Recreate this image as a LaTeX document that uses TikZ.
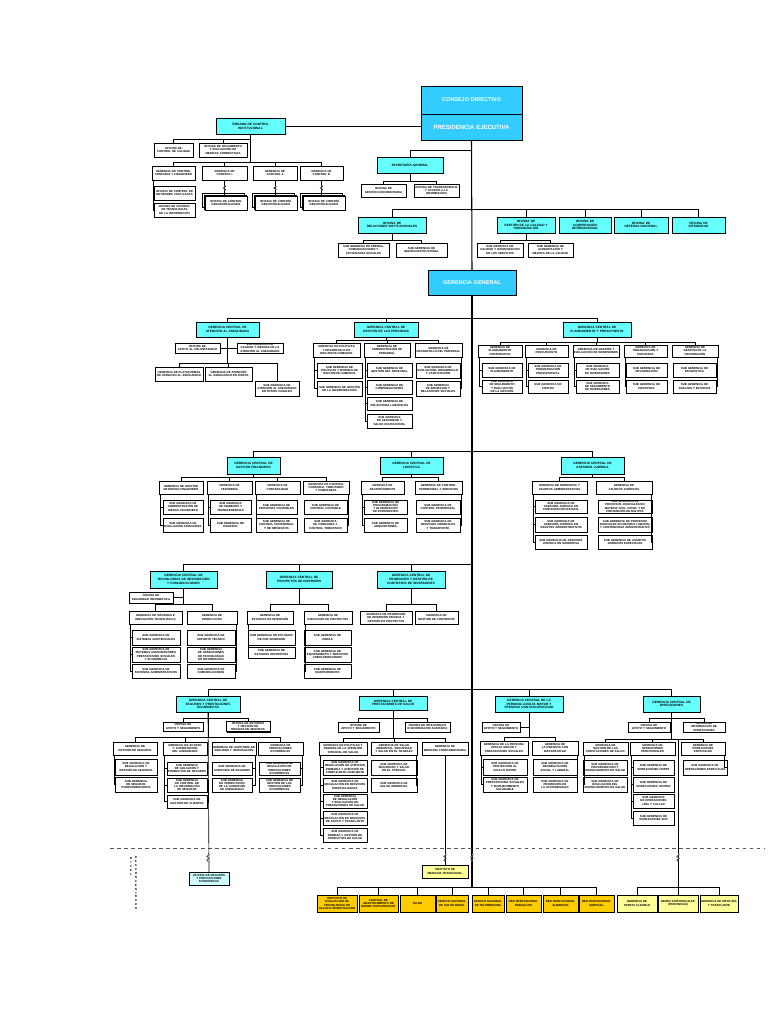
\documentclass[tikz,border=0pt]{standalone}
\usepackage{fontspec}
\setsansfont{Liberation Sans}
\usetikzlibrary{shadows}
\definecolor{headcyan}{HTML}{33CCFF}
\definecolor{gccyan}{HTML}{66FFFF}
\definecolor{palecyan}{HTML}{CCFFFF}
\definecolor{essgold}{HTML}{FFCC00}
\definecolor{paleyellow}{HTML}{FFFF99}
\definecolor{dashgray}{HTML}{555555}

% box from its corners (x1,y1) (x2,y2), in pixels of the chart
\newcommand\ob[7][obox]{%
  \pgfmathsetmacro\obw{(#5-#3)*0.3}%
  \pgfmathsetmacro\obt{(#5-#3)*0.3-0.4}%
  \pgfmathsetmacro\obh{(#6-#4)*0.3}%
  \node[#1, minimum width=\obw mm, minimum height=\obh mm, text width=\obt mm]
    (#2) at ({(#3+#5)/2},{(#4+#6)/2}) {#7};}

\begin{document}
\hyphenpenalty=10000
\exhyphenpenalty=10000
\begin{tikzpicture}[
    x=0.3mm, y=-0.3mm,
    conn/.style={draw, line width=0.55pt},
    spine/.style={draw, line width=0.9pt},
    obox/.style={draw, fill=white, line width=0.4pt, inner sep=0.2mm, align=center,
      font=\sffamily\bfseries\fontsize{2.45}{2.8}\selectfont,
      drop shadow={shadow xshift=0.35mm, shadow yshift=-0.35mm, fill=black, opacity=1}},
    gcbox/.style={obox, fill=gccyan, font=\sffamily\bfseries\fontsize{2.7}{3.1}\selectfont},
    headbox/.style={obox, fill=headcyan, text=white, font=\sffamily\bfseries\fontsize{4.7}{5.5}\selectfont},
    stackbox/.style={obox, double copy shadow={shadow xshift=-0.35mm, shadow yshift=0.35mm}},
    ybox/.style={obox, fill=essgold},
    lybox/.style={obox, fill=paleyellow},
    pcbox/.style={obox, fill=palecyan},
    brk/.style={draw, line width=0.4pt},
    vtext/.style={font=\sffamily\bfseries\fontsize{2.6}{3.4}\selectfont, align=center, inner sep=0},
]
\useasboundingbox (0,0) rectangle (768,1024);

% Alta direccion
\ob[headbox]{cd}{421}{86}{522}{114}{CONSEJO DIRECTIVO}
\ob[headbox]{pe}{421}{114}{522}{140}{\fontsize{5.1}{6}\selectfont PRESIDENCIA EJECUTIVA}
\ob[headbox]{gg}{428}{270}{516}{295}{GERENCIA GENERAL}
\draw[spine] (pe.south) -- (gg.north);
\draw[spine] (gg.south) -- ([yshift=2.1mm]gg.south |- 0,895);

% Organo de control institucional
\ob[gcbox]{oci}{216}{118}{285}{134}{ÓRGANO DE CONTROL\\INSTITUCIONAL}
\ob{occ}{154}{143}{193}{157}{OFICINA DE\\CONTROL DE CALIDAD}
\ob{osm}{199}{143}{247}{157}{OFICINA DE SEGUIMIENTO Y EVALUACIÓN DE MEDIDAS CORRECTIVAS}
\ob{gcc}{152}{166}{195}{180}{GERENCIA DE CONTROL CONTABLE Y FINANCIERO}
\ob{gc1}{202}{166}{247}{180}{GERENCIA DE\\CONTROL I}
\ob{gc2}{253}{166}{297}{180}{GERENCIA DE\\CONTROL II}
\ob{gc3}{300}{166}{343}{180}{GERENCIA DE\\CONTROL III}
\ob{oca}{154}{186}{195}{200}{OFICINA DE CONTROL DE ENTIDADES VINCULADAS}
\ob{ocb}{154}{203}{195}{217}{OFICINA DE CONTROL DE TECNOLOGÍAS DE LA INFORMACIÓN}
\ob[stackbox]{ocd1}{205}{196}{247}{210}{OFICINA DE CONTROL DESCENTRALIZADO}
\ob[stackbox]{ocd2}{255}{196}{297}{210}{OFICINA DE CONTROL DESCENTRALIZADO}
\ob[stackbox]{ocd3}{303}{196}{345}{210}{OFICINA DE CONTROL DESCENTRALIZADO}
\draw[conn] (oci.east) -- (oci.east -| pe.west);
\foreach \c in {occ,osm,gcc,gc1,gc2,gc3} \draw[conn] (\c.north) -- ++(0,-3) -| (oci.south);
\foreach \c in {oca,ocb} \draw[conn] ([xshift=0.4mm]gcc.south west) |- (\c.west);
\foreach \p/\c in {gc1/ocd1,gc2/ocd2,gc3/ocd3} {
    \draw[conn] (\p.south) -- (\p.south |- \c.north);
}
\foreach \x in {224.5,275,321.5}
    \draw[brk, fill=white] (\x,185) -- (\x+1.3,186.5) -- (\x-1.3,188) -- (\x+1.3,189.5) -- (\x,191);

% Secretaria general
\ob[gcbox]{sg}{377}{157}{443}{173}{SECRETARÍA GENERAL}
\ob{ogd}{361}{184}{406}{197}{OFICINA DE\\GESTIÓN DOCUMENTARIA}
\ob{oti}{414}{184}{459}{197}{OFICINA DE TRANSPARENCIA Y ACCESO A LA INFORMACIÓN}
\draw[conn] (sg.north) -- ++(0,-6) -| (pe.south);
\foreach \c in {ogd,oti} \draw[conn] (\c.north) -- ++(0,-2) -| (sg.south);

% Oficinas
\ob[gcbox]{ori}{358}{217}{426}{233}{OFICINA DE\\RELACIONES INSTITUCIONALES}
\ob[gcbox]{ogch}{497}{217}{555}{233}{OFICINA DE\\GESTIÓN DE LA CALIDAD Y\\HUMANIZACIÓN}
\ob[gcbox]{occi}{559}{217}{611}{233}{OFICINA DE\\COOPERACIÓN\\INTERNACIONAL}
\ob[gcbox]{odn}{614}{217}{668}{233}{OFICINA DE\\DEFENSA NACIONAL}
\ob[gcbox]{oint}{672}{217}{725}{233}{OFICINA DE\\INTEGRIDAD}
\ob{spc}{338}{243}{389}{257}{SUB GERENCIA DE PRENSA, COMUNICACIONES Y ACTIVIDADES SOCIALES}
\ob{sgii}{396}{243}{447}{257}{SUB GERENCIA DE\\IMAGEN INSTITUCIONAL}
\ob{sgch}{477}{243}{523}{257}{SUB GERENCIA DE CALIDAD Y HUMANIZACIÓN DE LOS SERVICIOS}
\ob{sgam}{528}{243}{573}{257}{SUB GERENCIA DE ACREDITACIÓN Y MEJORA DE LA CALIDAD}
\foreach \c in {ori,ogch,occi,odn,oint} \draw[conn] (\c.north) -- ++(0,-7) -| (pe.south);
\foreach \c in {spc,sgii} \draw[conn] (\c.north) -- ++(0,-2) -| (ori.south);
\foreach \c in {sgch,sgam} \draw[conn] (\c.north) -- ++(0,-2) -| (ogch.south);

% Gerencias centrales: primera fila
\ob[gcbox]{gcaa}{196}{322}{259}{337}{GERENCIA CENTRAL DE\\ATENCIÓN AL ASEGURADO}
\ob[gcbox]{gcgp}{354}{322}{418}{337}{GERENCIA CENTRAL DE\\GESTIÓN DE LAS PERSONAS}
\ob[gcbox]{gcpp}{563}{322}{631}{337}{GERENCIA CENTRAL DE\\PLANEAMIENTO Y PRESUPUESTO}
\foreach \c in {gcaa,gcgp,gcpp} \draw[conn] (\c.north) -- ++(0,-3) -| (gg.south);

% Atencion al asegurado
\ob{oav}{175}{343}{220}{353}{OFICINA DE\\APOYO AL VOLUNTARIADO}
\ob{sgca}{237}{343}{283}{353}{SUB GERENCIA DE CALIDAD Y MEJORA DE LA ATENCIÓN AL ASEGURADO}
\ob{gpa}{155}{367}{203}{381}{GERENCIA DE PLATAFORMAS DE ATENCIÓN AL ASEGURADO}
\ob{gai}{205}{367}{252}{381}{GERENCIA DE ATENCIÓN AL ASEGURADO EN IPRESS}
\ob{sgoc}{255}{381}{299}{396}{SUB GERENCIA DE ATENCIÓN AL ASEGURADO EN OTROS CANALES}
\draw[conn] (oav.east) -- (sgca.west);
\foreach \c in {gpa,gai} \draw[conn] (\c.north) -- ++(0,-3) -| (gcaa.south);
\draw[conn] (sgoc.north) -- ++(0,-17) -| (gcaa.south);

% Gestion de las personas
\ob{gpr}{313}{343}{360}{357}{GERENCIA DE POLÍTICAS Y DESARROLLO DE RECURSOS HUMANOS}
\ob{gap}{364}{343}{410}{357}{GERENCIA DE\\ADMINISTRACIÓN DE\\PERSONAL}
\ob{gdp}{415}{343}{462}{357}{GERENCIA DE\\DESARROLLO DEL PERSONAL}
\ob{gpra}{317}{363}{362}{378}{SUB GERENCIA DE POLÍTICAS Y NORMAS DE RECURSOS HUMANOS}
\ob{gprb}{317}{381}{362}{396}{SUB GERENCIA DE GESTIÓN DE LA INCORPORACIÓN}
\ob{gapa}{367}{363}{412}{377}{SUB GERENCIA DE\\GESTIÓN DEL PERSONAL}
\ob{gapb}{367}{380}{412}{394}{SUB GERENCIA DE\\COMPENSACIONES}
\ob{gapc}{367}{397}{412}{410}{SUB GERENCIA DE\\RELACIONES LABORALES}
\ob{gapd}{367}{414}{412}{428}{SUB GERENCIA DE SEGURIDAD Y SALUD OCUPACIONAL}
\ob{gdpa}{416}{363}{460}{378}{SUB GERENCIA DE EVALUACIÓN, DESARROLLO Y CAPACITACIÓN}
\ob{gdpb}{416}{381}{460}{396}{SUB GERENCIA DE BIENESTAR Y RELACIONES SOCIALES}
\foreach \c in {gpr,gap,gdp} \draw[conn] (\c.north) -- ++(0,-2) -| (gcgp.south);
\foreach \c in {gpra,gprb} \draw[conn] ([xshift=0.4mm]gpr.south west) |- (\c.west);
\foreach \c in {gapa,gapb,gapc,gapd} \draw[conn] ([xshift=0.4mm]gap.south west) |- (\c.west);
\foreach \c in {gdpa,gdpb} \draw[conn] ([xshift=-0.4mm]gdp.south east) |- (\c.east);

% Planeamiento y presupuesto
\ob{p1}{478}{345}{522}{357}{GERENCIA DE\\PLANEAMIENTO\\CORPORATIVO}
\ob{p2}{525}{345}{568}{357}{GERENCIA DE\\PRESUPUESTO}
\ob{p3}{573}{345}{619}{357}{GERENCIA DE GESTIÓN Y EVALUACIÓN DE INVERSIONES}
\ob{p4}{624}{345}{667}{357}{GERENCIA DE\\ORGANIZACIÓN Y\\PROCESOS}
\ob{p5}{672}{345}{718}{357}{GERENCIA DE\\GESTIÓN DE LA\\INFORMACIÓN}
\foreach \c in {p1,p2,p3,p4,p5} \draw[conn] (\c.north) -- ++(0,-2) -| (gcpp.south);
\foreach \n/\xa/\xb/\ta/\tb in {
    p1/482/522/{SUB GERENCIA DE\\PLANEAMIENTO}/{SUB GERENCIA DE SEGUIMIENTO Y EVALUACIÓN DE LA GESTIÓN},
    p2/528/568/{SUB GERENCIA DE PROGRAMACIÓN PRESUPUESTAL}/{SUB GERENCIA DE\\COSTOS},
    p3/576/619/{SUB GERENCIA DE EVALUACIÓN DE INVERSIONES}/{SUB GERENCIA DE SEGUIMIENTO DE INVERSIONES},
    p4/626/667/{SUB GERENCIA DE\\ORGANIZACIÓN}/{SUB GERENCIA DE\\PROCESOS}} {
    \ob{\n a}{\xa}{363}{\xb}{377}{\ta}
    \ob{\n b}{\xa}{380}{\xb}{393}{\tb}
    \draw[conn] ([xshift=0.4mm]\n.south west) |- (\n a.west);
    \draw[conn] ([xshift=0.4mm]\n.south west) |- (\n b.west);
}
\ob{p5a}{673}{363}{716}{377}{SUB GERENCIA DE\\ESTADÍSTICA}
\ob{p5b}{673}{380}{716}{393}{SUB GERENCIA DE\\ANÁLISIS Y ESTUDIOS}
\foreach \c in {p5a,p5b} \draw[conn] ([xshift=-0.4mm]p5.south east) |- (\c.east);

% Gerencias centrales: segunda fila
\ob[gcbox]{gcgf}{227}{457}{280}{474}{GERENCIA CENTRAL DE\\GESTIÓN FINANCIERA}
\ob[gcbox]{gcl}{380}{457}{443}{474}{GERENCIA CENTRAL DE\\LOGÍSTICA}
\ob[gcbox]{gcaj}{561}{457}{624}{474}{GERENCIA CENTRAL DE\\ASESORÍA JURÍDICA}
\foreach \c in {gcgf,gcl,gcaj} \draw[conn] (\c.north) -- ++(0,-5) -| (gg.south);

% Gestion financiera
\ob{f1}{159}{481}{203}{494}{GERENCIA DE GESTIÓN DE RIESGO FINANCIERO}
\ob{f2}{207}{481}{252}{494}{GERENCIA DE\\TESORERÍA}
\ob{f3}{255}{481}{300}{494}{GERENCIA DE\\CONTABILIDAD}
\ob{f4}{303}{481}{349}{494}{GERENCIA DE CONTROL CONTABLE, TRIBUTARIO Y COBRANZAS}
\foreach \c in {f1,f2,f3,f4} \draw[conn] (\c.north) -- ++(0,-3) -| (gcgf.south);
\foreach \n/\xa/\xb/\ta/\tb in {
    f1/163/203/{SUB GERENCIA DE ADMINISTRACIÓN DE RIESGO FINANCIERO}/{SUB GERENCIA DE EVALUACIÓN FINANCIERA},
    f2/210/251/{SUB GERENCIA DE INGRESOS Y TRANSFERENCIAS}/{SUB GERENCIA DE\\EGRESOS},
    f3/256/297/{SUB GERENCIA DE PROCESOS CONTABLES}/{SUB GERENCIA DE CONTROL PATRIMONIAL Y DE IMPUESTOS}} {
    \ob{\n a}{\xa}{500}{\xb}{514}{\ta}
    \ob{\n b}{\xa}{518}{\xb}{532}{\tb}
    \draw[conn] ([xshift=0.4mm]\n.south west) |- (\n a.west);
    \draw[conn] ([xshift=0.4mm]\n.south west) |- (\n b.west);
}
\ob{f4a}{304}{500}{347}{514}{SUB GERENCIA DE\\CONTROL CONTABLE}
\ob{f4b}{304}{518}{347}{532}{SUB GERENCIA DE COBRANZA Y CONTROL TRIBUTARIO}
\foreach \c in {f4a,f4b} \draw[conn] ([xshift=-0.4mm]f4.south east) |- (\c.east);

% Logistica
\ob{l1}{361}{481}{404}{494}{GERENCIA DE\\ABASTECIMIENTO}
\ob{l2}{415}{481}{462}{494}{GERENCIA DE CONTROL PATRIMONIAL Y SERVICIOS}
\ob{l1a}{364}{500}{407}{514}{SUB GERENCIA DE PROGRAMACIÓN Y ELABORACIÓN DE EXPEDIENTES}
\ob{l1b}{364}{518}{407}{532}{SUB GERENCIA DE\\ADQUISICIONES}
\ob{l2a}{416}{500}{460}{514}{SUB GERENCIA DE\\CONTROL PATRIMONIAL}
\ob{l2b}{416}{518}{460}{532}{SUB GERENCIA DE SERVICIOS GENERALES Y TRANSPORTE}
\foreach \c in {l1,l2} \draw[conn] (\c.north) -- ++(0,-3) -| (gcl.south);
\foreach \c in {l1a,l1b} \draw[conn] ([xshift=0.4mm]l1.south west) |- (\c.west);
\foreach \c in {l2a,l2b} \draw[conn] ([xshift=-0.4mm]l2.south east) |- (\c.east);

% Asesoria juridica
\ob{j1}{532}{481}{587}{494}{GERENCIA DE NORMATIVA Y ASUNTOS ADMINISTRATIVOS}
\ob{j2}{596}{481}{652}{494}{GERENCIA DE\\ASUNTOS JURÍDICOS}
\ob{j1a}{535}{500}{587}{513}{SUB GERENCIA DE ASESORÍA JURÍDICA EN CONTRATACIÓN ESTATAL}
\ob{j1b}{535}{517}{587}{532}{SUB GERENCIA DE ASESORÍA JURÍDICA EN ASUNTOS ADMINISTRATIVOS}
\ob{j1c}{535}{535}{587}{549}{SUB GERENCIA DE ASESORÍA JURÍDICA EN NORMATIVA}
\ob{j2a}{598}{500}{652}{513}{SUB GERENCIA DE PROCESOS JUDICIALES EN MATERIA CIVIL, PENAL Y DE PREVENCIÓN DE DELITOS}
\ob{j2b}{598}{517}{652}{532}{SUB GERENCIA DE PROCESOS JUDICIALES EN MATERIA LABORAL Y CONTENCIOSO ADMINISTRATIVO}
\ob{j2c}{598}{535}{652}{549}{SUB GERENCIA DE ASUNTOS JURÍDICOS ESPECIALES}
\foreach \c in {j1,j2} \draw[conn] (\c.north) -- ++(0,-3) -| (gcaj.south);
\foreach \c in {j1a,j1b,j1c} \draw[conn] ([xshift=0.4mm]j1.south west) |- (\c.west);
\foreach \c in {j2a,j2b,j2c} \draw[conn] ([xshift=-0.4mm]j2.south east) |- (\c.east);

% Gerencias centrales: tercera fila
\ob[gcbox]{gctic}{150}{571}{217}{588}{GERENCIA CENTRAL DE\\TECNOLOGÍAS DE INFORMACIÓN\\Y COMUNICACIONES}
\ob[gcbox]{gcpi}{266}{571}{332}{588}{GERENCIA CENTRAL DE\\PROYECTOS DE INVERSIÓN}
\ob[gcbox]{gcpg}{377}{571}{445}{588}{GERENCIA CENTRAL DE\\PROMOCIÓN Y GESTIÓN DE\\CONTRATOS DE INVERSIONES}
\foreach \c in {gctic,gcpi,gcpg} \draw[conn] (\c.north) -- ++(0,-6) -| (gg.south);

% Tecnologias de informacion
\ob{osi}{129}{592}{173}{603}{OFICINA DE\\SEGURIDAD INFORMÁTICA}
\ob{t1}{129}{611}{182}{624}{GERENCIA DE SISTEMAS E INNOVACIÓN TECNOLÓGICA}
\ob{t2}{187}{611}{237}{624}{GERENCIA DE\\PRODUCCIÓN}
\ob{t1a}{132}{630}{180}{645}{SUB GERENCIA DE\\SISTEMAS ASISTENCIALES}
\ob{t1b}{132}{647}{180}{662}{SUB GERENCIA DE SISTEMAS ASEGURADORES, PRESTACIONES SOCIALES Y ECONÓMICAS}
\ob{t1c}{132}{664}{180}{678}{SUB GERENCIA DE SISTEMAS ADMINISTRATIVOS}
\ob{t2a}{187}{630}{235}{645}{SUB GERENCIA DE\\SOPORTE TÉCNICO}
\ob{t2b}{187}{647}{235}{662}{SUB GERENCIA DE OPERACIONES DE TECNOLOGÍAS DE INFORMACIÓN}
\ob{t2c}{187}{664}{235}{678}{SUB GERENCIA DE\\COMUNICACIONES}
\draw[conn] (osi.east) -- (osi.east -| gctic.south);
\foreach \c in {t1,t2} \draw[conn] (\c.north) -- ++(0,-6) -| (gctic.south);
\foreach \c in {t1a,t1b,t1c} \draw[conn] ([xshift=0.4mm]t1.south west) |- (\c.west);
\foreach \c in {t2a,t2b,t2c} \draw[conn] ([xshift=-0.4mm]t2.south east) |- (\c.east);

% Proyectos de inversion
\ob{i1}{247}{611}{293}{624}{GERENCIA DE\\ESTUDIOS DE INVERSIÓN}
\ob{i2}{304}{611}{352}{624}{GERENCIA DE\\EJECUCIÓN DE PROYECTOS}
\ob{i1a}{248}{630}{295}{645}{SUB GERENCIA DE ESTUDIOS DE PRE INVERSIÓN}
\ob{i1b}{248}{647}{295}{658}{SUB GERENCIA DE ESTUDIOS DEFINITIVOS}
\ob{i2a}{304}{630}{351}{645}{SUB GERENCIA DE\\OBRAS}
\ob{i2b}{304}{647}{351}{662}{SUB GERENCIA DE EQUIPAMIENTO Y SERVICIOS COMPLEMENTARIOS}
\ob{i2c}{304}{664}{351}{678}{SUB GERENCIA DE\\MANTENIMIENTO}
\foreach \c in {i1,i2} \draw[conn] (\c.north) -- ++(0,-6) -| (gcpi.south);
\foreach \c in {i1a,i1b} \draw[conn] ([xshift=0.4mm]i1.south west) |- (\c.west);
\foreach \c in {i2a,i2b,i2c} \draw[conn] ([xshift=0.4mm]i2.south west) |- (\c.west);

% Promocion y gestion de contratos
\ob{g1}{360}{611}{412}{624}{GERENCIA DE PROMOCIÓN DE INVERSIÓN PRIVADA Y GESTIÓN DE PROYECTOS}
\ob{g2}{415}{611}{458}{624}{GERENCIA DE\\GESTIÓN DE CONTRATOS}
\foreach \c in {g1,g2} \draw[conn] (\c.north) -- ++(0,-6) -| (gcpg.south);

% Gerencias centrales: cuarta fila
\ob[gcbox]{gcspe}{176}{696}{240}{712}{GERENCIA CENTRAL DE\\SEGUROS Y PRESTACIONES\\ECONÓMICAS}
\ob[gcbox]{gcps}{359}{696}{427}{710}{GERENCIA CENTRAL DE\\PRESTACIONES DE SALUD}
\ob[gcbox]{gcpam}{495}{696}{563}{712}{GERENCIA CENTRAL DE LA\\PERSONA ADULTA MAYOR Y\\PERSONA CON DISCAPACIDAD}
\ob[gcbox]{gco}{643}{696}{700}{712}{GERENCIA CENTRAL DE\\OPERACIONES}
\foreach \c in {gcspe,gcps,gcpam,gco} \draw[conn] (\c.north) -- ++(0,-6) -| (gg.south);

% Seguros y prestaciones economicas
\ob{sa1}{163}{722}{203}{731}{OFICINA DE\\APOYO Y SEGUIMIENTO}
\ob{sa2}{226}{722}{270}{731}{OFICINA DE ESTUDIOS Y GESTIÓN DE RIESGOS DE SEGUROS}
\ob{s1}{113}{742}{157}{755}{GERENCIA DE\\GESTIÓN DE SEGUROS}
\ob{s2}{163}{742}{207}{755}{GERENCIA DE ACCESO Y ACREDITACIÓN DEL ASEGURADO}
\ob{s3}{212}{742}{256}{755}{GERENCIA DE AUDITORÍA DE SEGUROS Y VERIFICACIÓN}
\ob{s4}{258}{742}{303}{755}{GERENCIA DE\\PRESTACIONES\\ECONÓMICAS}
\ob{s1a}{115}{759}{157}{775}{SUB GERENCIA DE REGULACIÓN Y GESTIÓN DE SEGUROS}
\ob{s1b}{115}{777}{157}{792}{SUB GERENCIA DE SEGUROS COMPLEMENTARIOS}
\ob{s2a}{167}{762}{207}{775}{SUB GERENCIA DE AFILIACIÓN Y PROMOCIÓN DE SEGUROS}
\ob{s2b}{167}{778}{207}{792}{SUB GERENCIA DE CONTROL DE LA INFORMACIÓN DE SEGUROS}
\ob{s2c}{167}{795}{207}{808}{SUB GERENCIA DE\\GESTIÓN DE CLIENTES}
\ob{s3a}{212}{762}{252}{775}{SUB GERENCIA DE AUDITORÍA DE SEGUROS}
\ob{s3b}{212}{778}{252}{792}{SUB GERENCIA DE VERIFICACIÓN DE LA CONDICIÓN DE ASEGURADO}
\ob{s4a}{259}{762}{300}{775}{SUB GERENCIA DE REGULACIÓN DE PRESTACIONES ECONÓMICAS}
\ob{s4b}{259}{778}{300}{792}{SUB GERENCIA DE GESTIÓN DE LAS PRESTACIONES ECONÓMICAS}
\foreach \c in {sa1,sa2} \draw[conn] (\c.north) -- ++(0,-3) -| (gcspe.south);
\foreach \c in {s1,s2,s3,s4} \draw[conn] (\c.north) -- ++(0,-4) -| (gcspe.south);
\foreach \c in {s1a,s1b} \draw[conn] ([xshift=0.4mm]s1.south west) |- (\c.west);
\foreach \c in {s2a,s2b,s2c} \draw[conn] ([xshift=0.4mm]s2.south west) |- (\c.west);
\foreach \c in {s3a,s3b} \draw[conn] ([xshift=-0.4mm]s3.south east) |- (\c.east);
\foreach \c in {s4a,s4b} \draw[conn] ([xshift=-0.4mm]s4.south east) |- (\c.east);

% Prestaciones de salud
\ob{ha1}{338}{722}{379}{732}{OFICINA DE\\APOYO Y SEGUIMIENTO}
\ob{ha2}{405}{722}{450}{732}{OFICINA DE INTELIGENCIA E INFORMACIÓN SANITARIA}
\ob{h1}{319}{742}{367}{755}{GERENCIA DE POLÍTICAS Y NORMAS DE LA ATENCIÓN INTEGRAL DE SALUD}
\ob{h2}{371}{742}{417}{755}{GERENCIA DE SALUD AMBIENTAL, SEGURIDAD Y SALUD EN EL TRABAJO}
\ob{h3}{422}{742}{468}{755}{GERENCIA DE\\MEDICINA COMPLEMENTARIA}
\ob{h1a}{323}{760}{367}{775}{SUB GERENCIA DE REGULACIÓN EN ATENCIÓN PRIMARIA Y ATENCIÓN DE COMPLEJIDAD CRECIENTE}
\ob{h1b}{323}{778}{367}{792}{SUB GERENCIA DE REGULACIÓN EN SERVICIOS ESPECIALIZADOS}
\ob{h1c}{323}{794}{367}{808}{SUB GERENCIA DE REGULACIÓN Y EVALUACIÓN DE PRESTACIONES DE SALUD}
\ob{h1d}{323}{811}{367}{825}{SUB GERENCIA DE REGULACIÓN EN SERVICIOS DE APOYO Y TRASPLANTE}
\ob{h1e}{323}{828}{367}{842}{SUB GERENCIA DE NORMAS Y GESTIÓN DE PRODUCTOS DE SALUD}
\ob{h2a}{371}{760}{417}{775}{SUB GERENCIA DE SEGURIDAD Y SALUD EN EL TRABAJO}
\ob{h2b}{371}{778}{417}{792}{SUB GERENCIA DE\\SALUD AMBIENTAL}
\foreach \c in {ha1,ha2} \draw[conn] (\c.north) -- ++(0,-3) -| (gcps.south);
\foreach \c in {h1,h2,h3} \draw[conn] (\c.north) -- ++(0,-3) -| (gcps.south);
\foreach \c in {h1a,h1b,h1c,h1d,h1e} \draw[conn] ([xshift=0.4mm]h1.south west) |- (\c.west);
\foreach \c in {h2a,h2b} \draw[conn] ([xshift=-0.4mm]h2.south east) |- (\c.east);

% Persona adulta mayor y persona con discapacidad
\ob{pas}{482}{722}{520}{732}{OFICINA DE\\APOYO Y SEGUIMIENTO}
\ob{a1}{480}{741}{528}{755}{GERENCIA DE LA PERSONA ADULTA MAYOR Y PRESTACIONES SOCIALES}
\ob{a2}{532}{741}{578}{755}{GERENCIA DE\\LA PERSONA CON\\DISCAPACIDAD}
\ob{a1a}{483}{759}{527}{775}{SUB GERENCIA DE PROTECCIÓN AL ADULTO MAYOR}
\ob{a1b}{483}{777}{527}{792}{SUB GERENCIA DE PRESTACIONES SOCIALES Y ENVEJECIMIENTO SALUDABLE}
\ob{a2a}{533}{759}{577}{775}{SUB GERENCIA DE REHABILITACIÓN SOCIAL Y LABORAL}
\ob{a2b}{533}{777}{577}{792}{SUB GERENCIA DE PROMOCIÓN DE LA ACCESIBILIDAD}
\draw[conn] (pas.east) -- (pas.east -| gcpam.south);
\foreach \c in {a1,a2} \draw[conn] (\c.north) -- ++(0,-3) -| (gcpam.south);
\foreach \c in {a1a,a1b} \draw[conn] ([xshift=0.4mm]a1.south west) |- (\c.west);
\foreach \c in {a2a,a2b} \draw[conn] ([xshift=-0.4mm]a2.south east) |- (\c.east);

% Operaciones
\ob{oa1}{628}{722}{670}{732}{OFICINA DE\\APOYO Y SEGUIMIENTO}
\ob{oa2}{683}{722}{725}{732}{OFICINA DE\\INFORMACIÓN DE\\OPERACIONES}
\ob{o1}{583}{742}{628}{755}{GERENCIA DE GESTIÓN DE LAS PRESTACIONES DE SALUD}
\ob{o2}{630}{742}{675}{755}{GERENCIA DE\\OPERACIONES\\TERRITORIALES}
\ob{o3}{681}{742}{725}{755}{GERENCIA DE\\OPERACIONES\\ESPECIALES}
\ob{o1a}{583}{760}{627}{775}{SUB GERENCIA DE PROGRAMACIÓN Y FINANCIAMIENTO DE SALUD}
\ob{o1b}{583}{777}{627}{792}{SUB GERENCIA DE EVALUACIÓN DEL FINANCIAMIENTO DE SALUD}
\ob{o2a}{633}{760}{674}{775}{SUB GERENCIA DE\\OPERACIONES NORTE}
\ob{o2b}{633}{777}{674}{792}{SUB GERENCIA DE\\OPERACIONES CENTRO}
\ob{o2c}{633}{794}{674}{808}{SUB GERENCIA DE OPERACIONES LIMA Y CALLAO}
\ob{o2d}{633}{811}{674}{825}{SUB GERENCIA DE\\OPERACIONES SUR}
\ob{o3a}{683}{760}{727}{775}{SUB GERENCIA DE OPERACIONES ESPECIALES}
\foreach \c in {oa1,oa2} \draw[conn] (\c.north) -- ++(0,-3) -| (gco.south);
\foreach \c in {o1,o2,o3} \draw[conn] (\c.north) -- ++(0,-2) -| (gco.south);
\foreach \c in {o1a,o1b} \draw[conn] ([xshift=0.4mm]o1.south west) |- (\c.west);
\foreach \c in {o2a,o2b,o2c,o2d} \draw[conn] ([xshift=0.4mm]o2.south west) |- (\c.west);
\draw[conn] ([xshift=-0.4mm]o3.south east) |- (o3a.east);

% Nivel desconcentrado
\draw[dashed, dashgray, line width=0.5pt] (110,848) -- (765,848);
\node[vtext] (nivel) at (131,866) {N\\I\\V\\E\\L};
\node[vtext] (desc) at (136,883) {D\\E\\S\\C\\O\\N\\C\\E\\N\\T\\R\\A\\D\\O};

\ob[pcbox]{ospe}{189}{872}{229}{885}{OFICINA DE SEGUROS Y PRESTACIONES ECONÓMICAS}
\ob[lybox]{imt}{422}{865}{468}{878}{INSTITUTO DE\\MEDICINA TRADICIONAL}
\draw[conn] (gcspe.south) -- (ospe.north);
\draw[conn] (h3.south) -- (imt.north);

\foreach \n/\xa/\xb/\t in {
    ieti/317/357/{INSTITUTO DE EVALUACIÓN DE TECNOLOGÍAS EN SALUD E INVESTIGACIÓN},
    cabe/359/398/{CENTRAL DE ABASTECIMIENTO DE BIENES ESTRATÉGICOS},
    incor/400/435/{INCOR},
    cnsr/436/468/{CENTRO NACIONAL DE SALUD RENAL},
    cnt/472/504/{CENTRO NACIONAL DE TELEMEDICINA},
    rpr/506/541/{RED PRESTACIONAL REBAGLIATI},
    rpa/543/578/{RED PRESTACIONAL ALMENARA},
    rps/579/614/{RED PRESTACIONAL SABOGAL}} {
    \ob[ybox]{\n}{\xa}{895}{\xb}{912}{\t}
    \draw[conn] (\n.north) -- ++(0,-7) -| (gg.south);
}
\ob[lybox]{gof}{617}{895}{657}{912}{GERENCIA DE\\OFERTA FLEXIBLE}
\ob[lybox, line width=0.8pt]{rap}{658}{895}{698}{912}{REDES ASISTENCIALES (PROVINCIAS)}
\ob[lybox]{gpt}{700}{895}{738}{912}{GERENCIA DE PROCURA Y TRASPLANTE}
\draw[conn] (rap.north) -- ([yshift=0.6mm]rap.north |- o3.north);
\foreach \c in {gof,gpt} \draw[conn] (\c.north) -- ++(0,-7) -| (rap.north);

% Cortes de linea
\foreach \x in {208,445,472,678}
    \draw[brk, fill=white] (\x,853) -- (\x+1.3,854.5) -- (\x-1.3,856.5) -- (\x+1.3,858.5) -- (\x-1.3,860) -- (\x,861.5);

\end{tikzpicture}
\end{document}
